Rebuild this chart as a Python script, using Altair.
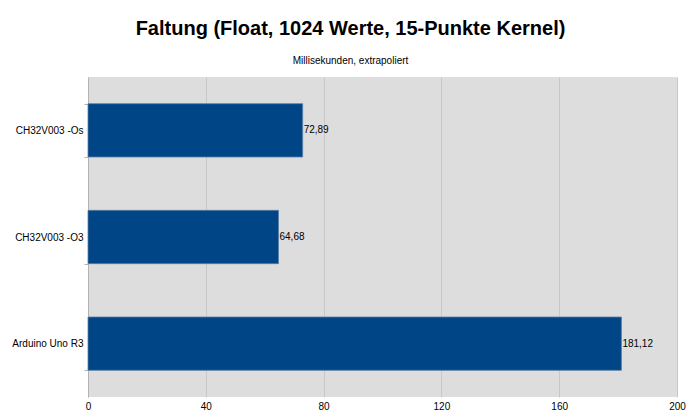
import altair as alt
import pandas as pd

categories = ["CH32V003 -Os", "CH32V003 -O3", "Arduino Uno R3"]
values = [72.89, 64.68, 181.12]
value_labels = ["72,89", "64,68", "181,12"]
x_ticks = [0, 40, 80, 120, 160, 200]

df = pd.DataFrame({"cat": categories, "val": values, "lab": value_labels})

FONT = "Liberation Sans"

base = alt.Chart(df).encode(
    y=alt.Y("cat:N", sort=categories, title=None,
            scale=alt.Scale(paddingInner=0.5, paddingOuter=0.25),
            axis=alt.Axis(tickBand="extent", domainColor="#b3b3b3", tickColor="#b3b3b3",
                          tickSize=4, labelFontSize=10, labelColor="#000000",
                          labelFont=FONT, labelPadding=1, grid=False)),
)

bars = base.mark_bar(color="#004586", stroke="#5a7ea6", strokeWidth=0.8).encode(
    x=alt.X("val:Q", title=None,
            scale=alt.Scale(domain=[0, 200], nice=False),
            axis=alt.Axis(values=x_ticks, grid=True, gridColor="#c8c8c8", ticks=False,
                          domain=False, labelFontSize=10, labelColor="#000000",
                          labelFont=FONT, labelPadding=4, labelFlush=False)),
)

text = base.mark_text(align="left", baseline="middle", dx=1, fontSize=10,
                      font=FONT, color="#000000").encode(
    x="val:Q", text="lab:N"
)

chart = (bars + text).properties(
    width=589, height=320,
    title=alt.TitleParams(
        "Faltung (Float, 1024 Werte, 15-Punkte Kernel)",
        subtitle="Millisekunden, extrapoliert",
        fontSize=20, font=FONT, fontWeight="bold", color="#000000",
        subtitleFontSize=10, subtitleFont=FONT, subtitleColor="#000000",
        subtitlePadding=17, offset=6, anchor="middle", dx=-32,
    ),
    padding={"left": 80, "top": 69, "right": 15, "bottom": 20},
    autosize=alt.AutoSizeParams(type="none"),
).configure(background="#ffffff").configure_view(fill="#dddddd", strokeWidth=0)

chart.save("out.html", embed_options={"renderer": "svg", "actions": False})
